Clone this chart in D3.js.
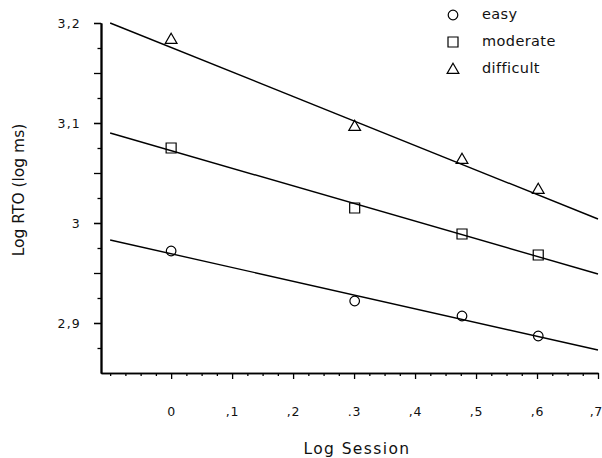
<!DOCTYPE html>
<html>
<head>
<meta charset="utf-8">
<script src="https://cdn.jsdelivr.net/npm/d3@7"></script>
<style>
  html, body { margin: 0; padding: 0; background: #fff; }
  svg { display: block; font-family: "DejaVu Sans", sans-serif; }
</style>
</head>
<body>
<svg id="chart" width="602" height="458"></svg>
<script>
// ---- data ----
const sessionsLog = [0, 0.301, 0.477, 0.602];
const seriesNames = ["easy", "moderate", "difficult"];
const easyValues = [2.972, 2.922, 2.907, 2.887];
const moderateValues = [3.075, 3.015, 2.989, 2.968];
const difficultValues = [3.184, 3.097, 3.064, 3.034];
// fitted line end points (at x = -0.1 and x = 0.7)
const fitX = [-0.1, 0.7];
const easyFit = [2.983, 2.873];
const moderateFit = [3.090, 2.949];
const difficultFit = [3.200, 3.004];
// tick labels
const xTickValues = [0, 0.1, 0.2, 0.3, 0.4, 0.5, 0.6, 0.7];
const xTickLabels = ["0", ",1", ",2", ".3", ",4", ",5", ",6", ",7"];
const yTickValues = [2.9, 3.0, 3.1, 3.2];
const yTickLabels = ["2,9", "3", "3,1", "3,2"];

const series = [
  { name: seriesNames[0], values: easyValues, fit: easyFit, shape: "circle" },
  { name: seriesNames[1], values: moderateValues, fit: moderateFit, shape: "square" },
  { name: seriesNames[2], values: difficultValues, fit: difficultFit, shape: "triangle" }
];

const svg = d3.select("#chart");
const x = d3.scaleLinear().domain([-0.115, 0.7]).range([101, 598]);
const y = d3.scaleLinear().domain([2.85, 3.2]).range([373, 23]);

// symbol generators
const symCircle = d3.symbol().type(d3.symbolCircle).size(Math.PI * 4.8 * 4.8);
const symSquare = d3.symbol().type(d3.symbolSquare).size(10 * 10);
const symTri = d3.symbol().type(d3.symbolTriangle).size(60);
function symPath(shape) {
  if (shape === "circle") return symCircle();
  if (shape === "square") return symSquare();
  return symTri();
}

// ---- axes ----
const xMinor = d3.range(-4, 29).map(i => i * 0.025).filter(v => Math.abs(v * 10 - Math.round(v * 10)) > 1e-6 || v < -0.05);
const yMinor = d3.range(0, 15).map(i => 2.85 + i * 0.025).filter(v => v > 2.851);

const xAxisMajor = d3.axisBottom(x).tickValues(xTickValues).tickSize(6)
  .tickFormat((d, i) => xTickLabels[i]).tickSizeOuter(0).tickPadding(28);
const xAxisMinor = d3.axisBottom(x).tickValues(xMinor).tickSize(3).tickFormat("").tickSizeOuter(0);

svg.append("g").attr("transform", "translate(0,373)").call(xAxisMinor);
const gx = svg.append("g").attr("transform", "translate(0,373)").call(xAxisMajor);

const yLong = yMinor.filter(v => Math.abs(v * 20 - Math.round(v * 20)) < 1e-6);
const yShort = yMinor.filter(v => Math.abs(v * 20 - Math.round(v * 20)) >= 1e-6);
const yAxisMajor = d3.axisLeft(y).tickValues(yTickValues).tickSize(7)
  .tickFormat((d, i) => yTickLabels[i]).tickSizeOuter(0).tickPadding(13);
const yAxisMid = d3.axisLeft(y).tickValues(yLong).tickSize(7).tickFormat("").tickSizeOuter(0);
const yAxisMinor = d3.axisLeft(y).tickValues(yShort).tickSize(3.5).tickFormat("").tickSizeOuter(0);

svg.append("g").attr("transform", "translate(101,0)").call(yAxisMinor);
svg.append("g").attr("transform", "translate(101,0)").call(yAxisMid);
const gy = svg.append("g").attr("transform", "translate(101,0)").call(yAxisMajor);

svg.selectAll(".domain").attr("stroke", "#000").attr("stroke-width", 1.6);
svg.selectAll(".tick line").attr("stroke", "#000").attr("stroke-width", 1.3);
svg.selectAll(".tick text").attr("fill", "#111").attr("font-size", 12.5)
  .attr("font-family", "DejaVu Sans, sans-serif");
gy.selectAll(".tick text").attr("letter-spacing", 1.2);
gx.selectAll(".tick text").attr("letter-spacing", 0.8);
// keep the last x label inside the picture
gx.selectAll(".tick text").filter((d, i) => i === xTickValues.length - 1)
  .attr("text-anchor", "end").attr("letter-spacing", 0.4).attr("dx", 4);

// ---- axis titles ----
svg.append("text").attr("x", 357).attr("y", 449)
  .attr("text-anchor", "middle").attr("dominant-baseline", "middle")
  .attr("font-size", 15.5).attr("letter-spacing", 1.4).attr("fill", "#111")
  .text("Log Session");
svg.append("text")
  .attr("transform", "translate(19,190) rotate(-90)")
  .attr("text-anchor", "middle").attr("dominant-baseline", "middle")
  .attr("font-size", 15.5).attr("fill", "#111")
  .text("Log RTO (log ms)");

// ---- fitted lines ----
const line = d3.line().x(d => x(d[0])).y(d => y(d[1]));
svg.append("g").selectAll("path").data(series).join("path")
  .attr("d", s => line(fitX.map((fx, i) => [fx, s.fit[i]])))
  .attr("fill", "none").attr("stroke", "#000").attr("stroke-width", 1.4);

// ---- markers ----
series.forEach(s => {
  svg.append("g").selectAll("path").data(s.values).join("path")
    .attr("d", symPath(s.shape))
    .attr("transform", (v, i) => `translate(${x(sessionsLog[i])},${y(v) + (s.shape === "triangle" ? 1 : 0)})`)
    .attr("fill", "none").attr("stroke", "#000").attr("stroke-width", 1.2);
});

// ---- legend ----
const legend = svg.append("g");
series.forEach((s, i) => {
  const ly = 15 + i * 27;
  legend.append("path").attr("d", symPath(s.shape))
    .attr("transform", `translate(453,${ly + (s.shape === "triangle" ? 1 : 0)})`)
    .attr("fill", "none").attr("stroke", "#000").attr("stroke-width", 1.2);
  legend.append("text").attr("x", 482).attr("y", ly)
    .attr("dominant-baseline", "middle").attr("font-size", 14.5)
    .attr("letter-spacing", 0.4).attr("fill", "#111").text(s.name);
});
</script>
</body>
</html>
